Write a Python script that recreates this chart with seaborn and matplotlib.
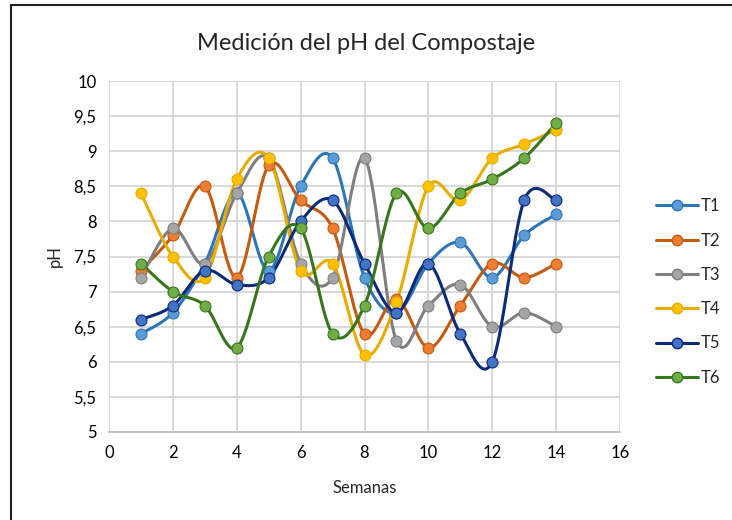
import numpy as np
import pandas as pd
import matplotlib
matplotlib.use("Agg")
import matplotlib.pyplot as plt
from matplotlib.lines import Line2D
from matplotlib.ticker import FuncFormatter, MultipleLocator
import seaborn as sns

# pH medido por semana para cada tratamiento
semanas = [1, 2, 3, 4, 5, 6, 7, 8, 9, 10, 11, 12, 13, 14]
t1 = [6.4, 6.7, 7.4, 8.4, 7.3, 8.5, 8.9, 7.2, 6.7, 7.4, 7.7, 7.2, 7.8, 8.1]
t2 = [7.3, 7.8, 8.5, 7.2, 8.8, 8.3, 7.9, 6.4, 6.9, 6.2, 6.8, 7.4, 7.2, 7.4]
t3 = [7.2, 7.9, 7.4, 8.4, 8.9, 7.4, 7.2, 8.9, 6.3, 6.8, 7.1, 6.5, 6.7, 6.5]
t4 = [8.4, 7.5, 7.2, 8.6, 8.9, 7.3, 7.4, 6.1, 6.85, 8.5, 8.3, 8.9, 9.1, 9.3]
t5 = [6.6, 6.8, 7.3, 7.1, 7.2, 8.0, 8.3, 7.4, 6.7, 7.4, 6.4, 6.0, 8.3, 8.3]
t6 = [7.4, 7.0, 6.8, 6.2, 7.5, 7.9, 6.4, 6.8, 8.4, 7.9, 8.4, 8.6, 8.9, 9.4]

series = ["T1", "T2", "T3", "T4", "T5", "T6"]
valores = [t1, t2, t3, t4, t5, t6]
# (color de linea, relleno del marcador)
colores = {
    "T1": ("#2E75B6", "#5B9BD5"),
    "T2": ("#C55A11", "#ED7D31"),
    "T3": ("#7F7F7F", "#A5A5A5"),
    "T4": ("#E6AC00", "#FFC000"),
    "T5": ("#0B2A78", "#4472C4"),
    "T6": ("#38761D", "#70AD47"),
}


def suavizar(x, y, n=30):
    # curva suavizada tipo Excel (Bezier con tangentes Catmull-Rom)
    x = np.asarray(x, float)
    y = np.asarray(y, float)
    px = np.concatenate([[x[0]], x, [x[-1]]])
    py = np.concatenate([[y[0]], y, [y[-1]]])
    xs, ys = [], []
    t = np.linspace(0, 1, n)
    for i in range(1, len(px) - 2):
        p0 = np.array([px[i], py[i]])
        p3 = np.array([px[i + 1], py[i + 1]])
        p1 = p0 + (p3 - np.array([px[i - 1], py[i - 1]])) / 6
        p2 = p3 - (np.array([px[i + 2], py[i + 2]]) - p0) / 6
        b = ((1 - t) ** 3)[:, None] * p0 + (3 * (1 - t) ** 2 * t)[:, None] * p1 \
            + (3 * (1 - t) * t ** 2)[:, None] * p2 + (t ** 3)[:, None] * p3
        xs.extend(b[:, 0])
        ys.extend(b[:, 1])
    return xs, ys


sns.set_style("white")
plt.rcParams["font.family"] = ["Lato", "DejaVu Sans"]

fig = plt.figure(figsize=(7.32, 5.20), dpi=100)
ax = fig.add_axes([109 / 732, 1 - 432 / 520, 511 / 732, 351 / 520])

for nombre, vals in zip(series, valores):
    linea, relleno = colores[nombre]
    cx, cy = suavizar(semanas, vals)
    ax.plot(cx, cy, color=linea, lw=2.2, solid_capstyle="round")
    df = pd.DataFrame({"Semanas": semanas, "pH": vals})
    sns.scatterplot(data=df, x="Semanas", y="pH", ax=ax, s=62, color=relleno,
                    edgecolor=linea, linewidth=0.8, zorder=3, legend=False)

ax.set_xlim(0, 16)
ax.set_ylim(5, 10)
ax.xaxis.set_major_locator(MultipleLocator(2))
ax.yaxis.set_major_locator(MultipleLocator(0.5))
ax.yaxis.set_major_formatter(FuncFormatter(lambda v, p: f"{v:g}".replace(".", ",")))
ax.grid(True, color="#D0D0D0", lw=1.1)
for lado in ["top", "right", "left"]:
    ax.spines[lado].set_visible(False)
ax.spines["bottom"].set_color("#BFBFBF")
ax.spines["bottom"].set_linewidth(1.3)
ax.tick_params(axis="both", length=0, labelsize=12, colors="#000000", pad=9)
ax.set_xlabel("Semanas", fontsize=12, labelpad=14)
ax.set_ylabel("pH", fontsize=12, labelpad=8)

fig.text(0.5, 1 - 43 / 520, "Medición del pH del Compostaje", ha="center", va="center",
         fontsize=17)

handles = [Line2D([0], [0], color=colores[n][0], lw=2.2, marker="o", markersize=7.5,
                  markerfacecolor=colores[n][1], markeredgecolor=colores[n][0])
           for n in series]
fig.legend(handles, series, loc="center left", bbox_to_anchor=(656 / 732, 1 - 292 / 520),
           frameon=False, fontsize=12, handlelength=2.5, handletextpad=0.2,
           labelspacing=1.1, borderpad=0, borderaxespad=0)

# marco exterior del grafico
fig.add_artist(Line2D([11 / 732, 11 / 732], [0, 1 - 5 / 520], color="#222222", lw=1.5))
fig.add_artist(Line2D([11 / 732, 1], [1 - 5 / 520, 1 - 5 / 520], color="#222222", lw=1.5))

fig.savefig("out.png", dpi=100)
